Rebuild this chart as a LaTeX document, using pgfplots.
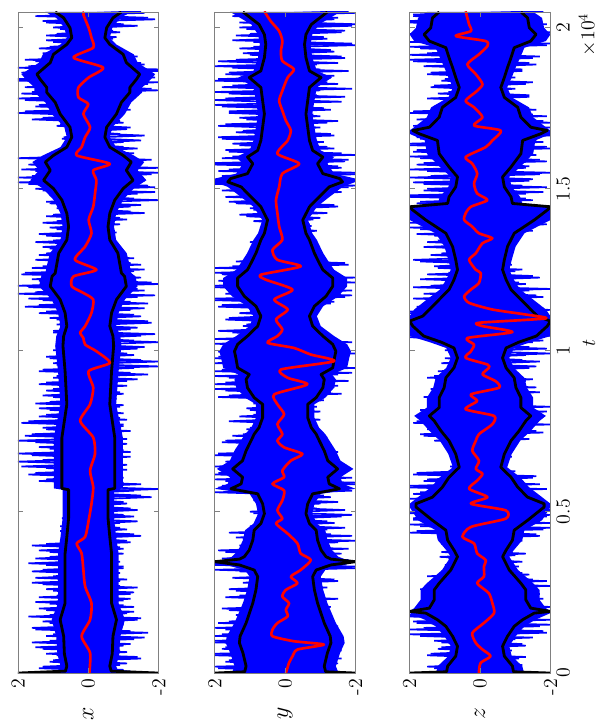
\documentclass[border=0pt]{standalone}
\usepackage{pgfplots}
\usepackage{pgfplotstable}
\pgfplotsset{compat=1.18}

% t  b(+env)  nb(-env)
\pgfplotstableread{
t b nb
0 2.00 -2.00
60 0.65 -0.65
216 0.61 -0.61
600 0.68 -0.68
1140 0.70 -0.70
1653 0.80 -0.80
2166 0.66 -0.66
3193 0.66 -0.66
3706 0.66 -0.66
4219 0.61 -0.61
4800 0.56 -0.56
5680 0.56 -0.56
5720 0.75 -0.75
6273 0.75 -0.75
7299 0.75 -0.75
8325 0.61 -0.61
9353 0.66 -0.66
10132 0.72 -0.72
10440 0.70 -0.70
10748 0.61 -0.61
11159 0.66 -0.66
11570 0.80 -0.80
11980 1.08 -1.08
12288 1.03 -1.03
12391 0.94 -0.94
12699 0.89 -0.89
13007 0.84 -0.84
13418 0.61 -0.61
13828 0.56 -0.56
14239 0.61 -0.61
14650 0.75 -0.75
15009 0.99 -0.99
15266 1.27 -1.27
15574 1.08 -1.08
15830 1.22 -1.22
16035 0.99 -0.99
16292 0.61 -0.61
16600 0.47 -0.47
16908 0.52 -0.52
17319 0.80 -0.80
17678 0.94 -0.94
17986 1.18 -1.18
18140 1.18 -1.18
18397 1.37 -1.37
18551 1.46 -1.46
18910 1.08 -1.08
19166 0.99 -0.99
19474 0.61 -0.61
19680 0.47 -0.47
19988 0.52 -0.52
20296 0.70 -0.70
20480 0.94 -0.94
}\envA

\pgfplotstableread{
t b nb
0 2.00 -2.00
40 1.15 -1.15
216 1.11 -1.11
626 1.20 -1.20
934 1.30 -1.30
1140 1.28 -1.28
1551 1.11 -1.11
2166 0.92 -0.92
2577 0.83 -0.83
2988 0.78 -0.78
3193 0.88 -0.88
3350 1.30 -1.30
3450 2.00 -2.00
3530 1.30 -1.30
3604 1.16 -1.16
3809 1.02 -1.02
4117 0.92 -0.92
4425 0.88 -0.88
4630 0.69 -0.69
4938 0.59 -0.59
5245 0.64 -0.64
5553 0.78 -0.78
5708 1.54 -1.54
5862 1.25 -1.25
6067 1.21 -1.21
6324 1.49 -1.49
6580 1.21 -1.21
6888 1.11 -1.11
7196 0.97 -0.97
7402 0.88 -0.88
7607 0.74 -0.74
7915 0.64 -0.64
8326 0.64 -0.64
8531 0.88 -0.88
8839 1.07 -1.07
9096 1.11 -1.11
9250 1.02 -1.02
9455 1.35 -1.35
9763 1.40 -1.40
9968 1.44 -1.44
10184 1.35 -1.35
10440 1.07 -1.07
10748 0.78 -0.78
11056 0.69 -0.69
11364 0.83 -0.83
11672 1.16 -1.16
11980 1.35 -1.35
12237 1.35 -1.35
12493 1.07 -1.07
12699 0.97 -0.97
13007 0.83 -0.83
13418 0.69 -0.69
13623 0.59 -0.59
14034 0.50 -0.50
14444 0.69 -0.69
14752 0.97 -0.97
15060 1.25 -1.25
15215 1.63 -1.63
15317 1.55 -1.55
15471 1.07 -1.07
15779 0.92 -0.92
15985 1.07 -1.07
16190 0.78 -0.78
16498 0.69 -0.69
16908 0.64 -0.64
17319 0.59 -0.59
17730 0.64 -0.64
18140 0.69 -0.69
18448 1.02 -1.02
18654 0.69 -0.69
19064 0.59 -0.59
19474 0.55 -0.55
19782 0.59 -0.59
20090 0.74 -0.74
20480 1.20 -1.20
}\envB

\pgfplotstableread{
t b nb
0 2.00 -2.00
40 0.95 -0.95
216 0.92 -0.92
524 0.69 -0.69
832 0.64 -0.64
1140 0.78 -0.78
1448 0.97 -0.97
1653 1.21 -1.21
1858 1.54 -1.54
1910 2.00 -2.00
2012 1.44 -1.44
2269 1.30 -1.30
2577 1.30 -1.30
2783 1.16 -1.16
3193 0.83 -0.83
3604 0.64 -0.64
3809 0.74 -0.74
4117 0.92 -0.92
4425 0.97 -0.97
4732 1.35 -1.35
5143 1.82 -1.82
5245 1.82 -1.82
5450 1.35 -1.35
5759 1.07 -1.07
6067 0.88 -0.88
6375 0.59 -0.59
6786 0.69 -0.69
7196 0.88 -0.88
7504 1.11 -1.11
7812 1.30 -1.30
7966 1.44 -1.44
8223 1.16 -1.16
8531 1.16 -1.16
8839 1.02 -1.02
9147 0.97 -0.97
9455 0.74 -0.74
9763 0.64 -0.64
10071 0.74 -0.74
10250 1.10 -1.10
10440 1.60 -1.60
10748 1.91 -1.91
10902 2.00 -2.00
11056 1.63 -1.63
11262 1.44 -1.44
11570 1.16 -1.16
11878 0.88 -0.88
12186 0.74 -0.74
12493 0.64 -0.64
12801 0.69 -0.69
13212 0.78 -0.78
13623 0.97 -0.97
14034 1.54 -1.54
14342 1.91 -1.91
14444 2.00 -2.00
14547 0.92 -0.92
14752 0.88 -0.88
15060 0.69 -0.69
15369 0.64 -0.64
15677 0.88 -0.88
16087 1.16 -1.16
16498 1.21 -1.21
16703 1.72 -1.72
16806 1.91 -1.91
16908 1.44 -1.44
17216 1.16 -1.16
17524 1.07 -1.07
17832 0.69 -0.69
18140 0.59 -0.59
18448 0.69 -0.69
18756 0.78 -0.78
19064 0.88 -0.88
19372 0.97 -0.97
19577 1.44 -1.44
19782 1.59 -1.59
19988 1.40 -1.40
20296 1.35 -1.35
20480 1.16 -1.16
}\envC

\begin{document}
\begin{tikzpicture}
\path (0,0) rectangle (362.4pt,435.6pt);

\pgfplotsset{
  panel/.style={
    scale only axis, width=85pt, height=399pt,
    xmin=-2, xmax=2, x dir=reverse,
    ymin=0, ymax=20480,
    scaled y ticks=false, scaled x ticks=false,
    xtick={-2,0,2}, xticklabels={-2,0,2},
    ytick={0,5000,10000,15000,20000}, yticklabels={},
    tick align=inside, major tick length=3pt,
    axis line style={gray}, tick style={gray, line width=0.4pt},
    xticklabel style={rotate=90, anchor=east, font=\fontsize{12}{14}\selectfont},
    xlabel style={at={(axis description cs:0.5,0)}, anchor=center, yshift=-24.6pt, rotate=90, font=\fontsize{14}{16}\selectfont},
    axis on top, clip=true, anchor=south west,
  },
  core/.style={fill=blue, draw=none},
  bl/.style={blue, line width=1.0pt, line join=miter, miter limit=2},
  bk/.style={black, line width=1.7pt, line join=round},
  rd/.style={red, line width=1.6pt, line join=round, smooth, tension=0.4},
}

% ---------------- panel x ----------------
\begin{axis}[panel, at={(10.8pt,29.4pt)}, xlabel={$x$}]
\addplot[core] table[row sep=\\, x index=0, y index=1] {
2.00 0\\ 0.85 60\\ 0.79 216\\ 0.88 600\\ 0.91 1140\\ 1.04 1653\\ 0.86 2166\\ 0.86 3193\\ 0.86 3706\\ 0.79 4219\\
0.73 4800\\ 0.73 5680\\ 0.98 5720\\ 0.98 6273\\ 0.98 7299\\ 0.79 8325\\ 0.86 9353\\ 0.94 10132\\ 0.91 10440\\ 0.79 10748\\
0.86 11159\\ 1.04 11570\\ 1.40 11980\\ 1.34 12288\\ 1.22 12391\\ 1.16 12699\\ 1.09 13007\\ 0.79 13418\\ 0.73 13828\\ 0.79 14239\\
0.98 14650\\ 1.29 15009\\ 1.65 15266\\ 1.40 15574\\ 1.59 15830\\ 1.29 16035\\ 0.79 16292\\ 0.61 16600\\ 0.68 16908\\ 1.04 17319\\
1.22 17678\\ 1.53 17986\\ 1.53 18140\\ 1.78 18397\\ 1.90 18551\\ 1.40 18910\\ 1.29 19166\\ 0.79 19474\\ 0.61 19680\\ 0.68 19988\\
0.91 20296\\ 1.22 20480\\
-1.22 20480\\ -0.91 20296\\ -0.68 19988\\ -0.61 19680\\ -0.79 19474\\ -1.29 19166\\ -1.40 18910\\ -1.90 18551\\ -1.78 18397\\ -1.53 18140\\
-1.53 17986\\ -1.22 17678\\ -1.04 17319\\ -0.68 16908\\ -0.61 16600\\ -0.79 16292\\ -1.29 16035\\ -1.59 15830\\ -1.40 15574\\ -1.65 15266\\
-1.29 15009\\ -0.98 14650\\ -0.79 14239\\ -0.73 13828\\ -0.79 13418\\ -1.09 13007\\ -1.16 12699\\ -1.22 12391\\ -1.34 12288\\ -1.40 11980\\
-1.04 11570\\ -0.86 11159\\ -0.79 10748\\ -0.91 10440\\ -0.94 10132\\ -0.86 9353\\ -0.79 8325\\ -0.98 7299\\ -0.98 6273\\ -0.98 5720\\
-0.73 5680\\ -0.73 4800\\ -0.79 4219\\ -0.86 3706\\ -0.86 3193\\ -0.86 2166\\ -1.04 1653\\ -0.91 1140\\ -0.88 600\\ -0.79 216\\
-0.85 60\\ -2.00 0\\
};
\addplot[bl] table[row sep=\\, header=false, x index=0, y expr=\coordindex*100] {
0.9\\ -1.0\\ 1.3\\ -1.1\\ 1.0\\ -1.4\\ 1.2\\ -0.9\\ 1.5\\ -1.2\\
1.1\\ -1.6\\ 1.0\\ -1.2\\ 1.6\\ -1.0\\ 1.3\\ -1.5\\ 1.1\\ -1.3\\
1.4\\ -1.0\\ 1.5\\ -1.2\\ 0.9\\ -1.3\\ 1.2\\ -0.9\\ 1.6\\ -1.1\\
1.0\\ -0.9\\ 1.3\\ -1.0\\ 1.7\\ -0.8\\ 1.1\\ -1.0\\ 1.4\\ -0.9\\
1.2\\ -1.1\\ 0.7\\ -1.3\\ 0.8\\ -0.9\\ 0.6\\ -1.4\\ 0.75\\ -1.0\\
0.7\\ -1.2\\ 0.65\\ -1.0\\ 0.6\\ -1.5\\ 0.7\\ -2.0\\ 0.9\\ -1.0\\
1.2\\ -0.9\\ 1.5\\ -1.1\\ 1.9\\ -0.9\\ 1.3\\ -1.2\\ 2.0\\ -1.0\\
1.4\\ -1.1\\ 2.0\\ -0.9\\ 1.6\\ -1.2\\ 1.3\\ -1.0\\ 1.7\\ -0.9\\
1.2\\ -0.8\\ 1.4\\ -1.0\\ 1.1\\ -0.8\\ 1.3\\ -0.9\\ 1.0\\ -1.1\\
1.2\\ -1.4\\ 0.9\\ -1.2\\ 1.3\\ -2.0\\ 1.0\\ -1.5\\ 1.2\\ -1.1\\
1.0\\ -1.6\\ 0.9\\ -1.3\\ 0.8\\ -1.9\\ 1.0\\ -1.4\\ 0.9\\ -1.7\\
1.1\\ -1.3\\ 1.2\\ -1.6\\ 1.4\\ -1.2\\ 1.7\\ -1.9\\ 1.5\\ -1.4\\
2.0\\ -1.8\\ 1.6\\ -1.3\\ 1.8\\ -1.6\\ 1.3\\ -1.2\\ 1.5\\ -1.0\\
1.2\\ -0.7\\ 1.3\\ -0.8\\ 1.0\\ -0.65\\ 1.4\\ -0.75\\ 1.1\\ -0.9\\
0.9\\ -0.9\\ 1.0\\ -1.2\\ 0.9\\ -1.5\\ 1.2\\ -1.3\\ 1.1\\ -1.9\\
1.5\\ -1.7\\ 2.0\\ -1.5\\ 1.6\\ -2.0\\ 1.9\\ -1.4\\ 1.5\\ -1.8\\
1.3\\ -1.3\\ 0.8\\ -1.0\\ 0.6\\ -1.5\\ 0.7\\ -0.9\\ 0.65\\ -1.2\\
0.8\\ -0.9\\ 1.3\\ -1.0\\ 1.8\\ -1.1\\ 1.4\\ -0.9\\ 2.0\\ -1.2\\
1.6\\ -1.8\\ 1.5\\ -2.0\\ 2.0\\ -1.6\\ 1.9\\ -2.0\\ 1.7\\ -1.5\\
1.8\\ -1.4\\ 1.3\\ -1.0\\ 1.1\\ -0.7\\ 1.2\\ -0.8\\ 0.9\\ -0.7\\
1.0\\ -1.0\\ 1.3\\ -1.7\\ 1.1\\ -1.5\\
};
\addplot[bl] table[row sep=\\, header=false, x index=0, y expr=\coordindex*100+50] {
-1.2\\ 1.4\\ -0.9\\ 1.1\\ -1.5\\ 0.9\\ -1.1\\ 1.3\\ -1.0\\ 1.6\\
-1.3\\ 1.2\\ -1.7\\ 1.5\\ -0.9\\ 1.1\\ -1.4\\ 1.7\\ -1.1\\ 1.2\\
-1.3\\ 1.1\\ -1.0\\ 1.4\\ -1.2\\ 1.0\\ -1.4\\ 1.3\\ -0.9\\ 1.5\\
-0.8\\ 1.6\\ -1.0\\ 1.2\\ -0.9\\ 1.5\\ -0.8\\ 1.1\\ -1.0\\ 1.6\\
-1.2\\ 0.65\\ -1.5\\ 0.7\\ -1.1\\ 0.8\\ -0.9\\ 0.6\\ -1.3\\ 0.7\\
-1.4\\ 0.6\\ -1.1\\ 0.7\\ -1.8\\ 0.6\\ -1.3\\ 0.8\\ -1.5\\ 1.4\\
-1.0\\ 1.7\\ -0.8\\ 1.2\\ -1.1\\ 2.0\\ -0.9\\ 1.6\\ -1.2\\ 1.1\\
-0.9\\ 1.5\\ -1.1\\ 1.8\\ -0.8\\ 1.2\\ -1.0\\ 1.9\\ -1.1\\ 1.4\\
-1.0\\ 1.1\\ -0.9\\ 1.5\\ -0.7\\ 1.0\\ -1.0\\ 1.2\\ -0.8\\ 1.4\\
-1.1\\ 1.0\\ -1.7\\ 1.4\\ -1.3\\ 0.9\\ -2.0\\ 1.1\\ -1.3\\ 0.9\\
-1.4\\ 0.8\\ -2.0\\ 0.7\\ -1.5\\ 1.0\\ -1.2\\ 0.8\\ -1.8\\ 0.9\\
-1.5\\ 1.4\\ -1.2\\ 1.8\\ -1.7\\ 1.3\\ -1.4\\ 2.0\\ -1.6\\ 1.7\\
-2.0\\ 1.4\\ -1.5\\ 1.9\\ -1.3\\ 1.6\\ -1.5\\ 1.1\\ -1.3\\ 1.4\\
-0.8\\ 1.1\\ -0.7\\ 1.5\\ -0.75\\ 1.2\\ -0.8\\ 0.9\\ -0.7\\ 1.3\\
-1.1\\ 1.2\\ -1.6\\ 0.8\\ -1.2\\ 1.1\\ -2.0\\ 1.0\\ -1.4\\ 1.3\\
-1.9\\ 1.7\\ -1.6\\ 2.0\\ -1.8\\ 1.5\\ -2.0\\ 1.7\\ -1.5\\ 2.0\\
-1.1\\ 0.7\\ -1.4\\ 0.55\\ -1.0\\ 0.75\\ -1.6\\ 0.6\\ -1.1\\ 0.9\\
-1.0\\ 1.6\\ -0.9\\ 2.0\\ -1.2\\ 1.5\\ -1.0\\ 1.8\\ -1.1\\ 1.9\\
-2.0\\ 1.8\\ -1.7\\ 2.0\\ -1.9\\ 1.6\\ -2.0\\ 2.0\\ -1.6\\ 1.5\\
-1.2\\ 1.0\\ -0.8\\ 1.4\\ -0.75\\ 1.0\\ -0.7\\ 1.2\\ -0.9\\ 0.8\\
-1.4\\ 1.2\\ -1.9\\ 1.5\\ -1.6\\
};
\addplot[bk] table[x=b, y=t] {\envA};
\addplot[bk] table[x=nb, y=t] {\envA};
\addplot[rd] table[row sep=\\, x index=1, y index=0] {
0 0.0\\ 10 -0.03\\ 626 -0.05\\ 1140 0.19\\ 1653 -0.05\\ 2166 -0.09\\ 2680 0.09\\ 3193 0.14\\ 3706 0.19\\ 4014 0.33\\
4219 0.09\\ 4732 -0.01\\ 5245 -0.09\\ 5759 -0.14\\ 6272 -0.05\\ 6786 -0.19\\ 7299 -0.14\\ 7812 0.23\\ 8326 -0.05\\ 8839 -0.14\\
9353 -0.01\\ 9609 -0.61\\ 9968 -0.23\\ 10174 0.09\\ 10379 0.14\\ 10544 0.23\\ 10748 0.09\\ 11159 -0.09\\ 11570 -0.14\\ 11775 0.14\\
11980 0.47\\ 12288 0.42\\ 12493 -0.23\\ 12801 0.38\\ 13212 0.09\\ 13623 -0.09\\ 14034 -0.01\\ 14444 -0.14\\ 14855 -0.19\\ 15266 -0.23\\
15574 -0.14\\ 15779 -0.61\\ 16035 0.33\\ 16292 0.19\\ 16600 0.09\\ 16908 -0.05\\ 17319 0.14\\ 17627 0.0\\ 17832 0.28\\ 18140 0.28\\
18448 -0.01\\ 18756 -0.42\\ 19064 0.42\\ 19372 -0.14\\ 19680 -0.09\\ 19988 -0.01\\ 20398 0.14\\ 20480 0.12\\
};
\end{axis}

% ---------------- panel y ----------------
\begin{axis}[panel, at={(129.6pt,29.4pt)}, xlabel={$y$}]
\addplot[core] table[row sep=\\, x index=0, y index=1] {
2.00 0\\ 1.50 40\\ 1.44 216\\ 1.56 626\\ 1.69 934\\ 1.66 1140\\ 1.44 1551\\ 1.20 2166\\ 1.08 2577\\ 1.01 2988\\
1.14 3193\\ 1.69 3350\\ 2.00 3450\\ 1.69 3530\\ 1.51 3604\\ 1.33 3809\\ 1.20 4117\\ 1.14 4425\\ 0.90 4630\\ 0.77 4938\\
0.83 5245\\ 1.01 5553\\ 2.00 5708\\ 1.63 5862\\ 1.57 6067\\ 1.94 6324\\ 1.57 6580\\ 1.44 6888\\ 1.26 7196\\ 1.14 7402\\
0.96 7607\\ 0.83 7915\\ 0.83 8326\\ 1.14 8531\\ 1.39 8839\\ 1.44 9096\\ 1.33 9250\\ 1.76 9455\\ 1.82 9763\\ 1.87 9968\\
1.76 10184\\ 1.39 10440\\ 1.01 10748\\ 0.90 11056\\ 1.08 11364\\ 1.51 11672\\ 1.76 11980\\ 1.76 12237\\ 1.39 12493\\ 1.26 12699\\
1.08 13007\\ 0.90 13418\\ 0.77 13623\\ 0.65 14034\\ 0.90 14444\\ 1.26 14752\\ 1.63 15060\\ 2.00 15215\\ 2.00 15317\\ 1.39 15471\\
1.20 15779\\ 1.39 15985\\ 1.01 16190\\ 0.90 16498\\ 0.83 16908\\ 0.77 17319\\ 0.83 17730\\ 0.90 18140\\ 1.33 18448\\ 0.90 18654\\
0.77 19064\\ 0.72 19474\\ 0.77 19782\\ 0.96 20090\\ 1.56 20480\\
-1.56 20480\\ -0.96 20090\\ -0.77 19782\\ -0.72 19474\\ -0.77 19064\\ -0.90 18654\\ -1.33 18448\\ -0.90 18140\\ -0.83 17730\\ -0.77 17319\\
-0.83 16908\\ -0.90 16498\\ -1.01 16190\\ -1.39 15985\\ -1.20 15779\\ -1.39 15471\\ -2.00 15317\\ -2.00 15215\\ -1.63 15060\\ -1.26 14752\\
-0.90 14444\\ -0.65 14034\\ -0.77 13623\\ -0.90 13418\\ -1.08 13007\\ -1.26 12699\\ -1.39 12493\\ -1.76 12237\\ -1.76 11980\\ -1.51 11672\\
-1.08 11364\\ -0.90 11056\\ -1.01 10748\\ -1.39 10440\\ -1.76 10184\\ -1.87 9968\\ -1.82 9763\\ -1.76 9455\\ -1.33 9250\\ -1.44 9096\\
-1.39 8839\\ -1.14 8531\\ -0.83 8326\\ -0.83 7915\\ -0.96 7607\\ -1.14 7402\\ -1.26 7196\\ -1.44 6888\\ -1.57 6580\\ -1.94 6324\\
-1.57 6067\\ -1.63 5862\\ -2.00 5708\\ -1.01 5553\\ -0.83 5245\\ -0.77 4938\\ -0.90 4630\\ -1.14 4425\\ -1.20 4117\\ -1.33 3809\\
-1.51 3604\\ -1.69 3530\\ -2.00 3450\\ -1.69 3350\\ -1.14 3193\\ -1.01 2988\\ -1.08 2577\\ -1.20 2166\\ -1.44 1551\\ -1.66 1140\\
-1.69 934\\ -1.56 626\\ -1.44 216\\ -1.50 40\\ -2.00 0\\
};
\addplot[bl] table[row sep=\\, header=false, x index=0, y expr=\coordindex*100] {
1.8\\ -1.4\\ 2.0\\ -1.5\\ 1.6\\ -1.3\\ 2.0\\ -1.6\\ 1.7\\ -1.4\\
2.0\\ -1.2\\ 1.8\\ -1.5\\ 2.0\\ -1.3\\ 1.6\\ -1.1\\ 1.4\\ -0.9\\
1.8\\ -1.2\\ 1.1\\ -1.5\\ 1.3\\ -0.8\\ 1.6\\ -1.0\\ 1.2\\ -1.4\\
1.0\\ -0.9\\ 2.0\\ -2.0\\ 2.0\\ -1.8\\ 1.5\\ -1.6\\ 1.9\\ -1.2\\
1.1\\ -2.0\\ 1.4\\ -1.3\\ 1.0\\ -1.7\\ 0.9\\ -1.2\\ 0.7\\ -1.9\\
1.0\\ -0.9\\ 0.75\\ -1.5\\ 0.8\\ -1.1\\ 2.0\\ -1.7\\ 1.8\\ -2.0\\
2.0\\ -1.6\\ 1.9\\ -1.8\\ 2.0\\ -1.3\\ 1.5\\ -1.1\\ 1.9\\ -1.4\\
1.3\\ -1.0\\ 1.7\\ -1.2\\ 1.2\\ -0.8\\ 1.0\\ -0.9\\ 1.6\\ -0.7\\
0.9\\ -1.0\\ 1.1\\ -0.8\\ 0.8\\ -0.9\\ 1.6\\ -1.3\\ 2.0\\ -1.5\\
1.7\\ -1.2\\ 2.0\\ -1.9\\ 1.8\\ -1.4\\ 2.0\\ -1.6\\ 1.9\\ -2.0\\
1.6\\ -1.5\\ 2.0\\ -1.3\\ 1.4\\ -0.9\\ 1.9\\ -0.7\\ 1.1\\ -0.8\\
1.6\\ -0.6\\ 1.0\\ -0.9\\ 1.8\\ -1.4\\ 2.0\\ -1.9\\ 1.6\\ -1.6\\
2.0\\ -2.0\\ 1.7\\ -1.5\\ 2.0\\ -1.3\\ 1.5\\ -1.7\\ 1.0\\ -0.9\\
0.8\\ -0.7\\ 0.9\\ -0.8\\ 0.6\\ -0.65\\ 0.7\\ -0.9\\ 0.55\\ -0.7\\
0.9\\ -1.0\\ 1.3\\ -0.8\\ 1.0\\ -1.4\\ 1.6\\ -1.1\\ 1.2\\ -1.6\\
1.5\\ -2.0\\ 2.0\\ -1.7\\ 1.8\\ -2.0\\ 1.6\\ -1.5\\ 2.0\\ -1.8\\
1.5\\ -1.6\\ 1.7\\ -1.2\\ 1.5\\ -0.9\\ 1.9\\ -1.3\\ 1.2\\ -1.0\\
1.7\\ -1.5\\ 1.3\\ -0.8\\ 1.6\\ -1.1\\ 2.0\\ -1.6\\ 1.7\\ -0.9\\
2.0\\ -1.9\\ 1.5\\ -1.2\\ 1.9\\ -1.4\\ 1.6\\ -1.0\\ 2.0\\ -1.5\\
1.4\\ -1.6\\ 1.2\\ -1.3\\ 0.9\\ -1.9\\ 1.5\\ -1.1\\ 1.0\\ -1.7\\
1.3\\ -2.0\\ 1.1\\ -1.5\\ 1.4\\ -1.8\\
};
\addplot[bl] table[row sep=\\, header=false, x index=0, y expr=\coordindex*100+50] {
-1.5\\ 1.9\\ -1.3\\ 1.7\\ -1.6\\ 2.0\\ -1.4\\ 1.8\\ -1.5\\ 2.0\\
-1.4\\ 2.0\\ -1.2\\ 1.7\\ -1.5\\ 1.9\\ -1.2\\ 1.3\\ -1.0\\ 1.6\\
-1.3\\ 1.2\\ -0.9\\ 1.7\\ -1.1\\ 1.4\\ -1.2\\ 1.0\\ -1.5\\ 1.5\\
-1.0\\ 1.3\\ -2.0\\ 2.0\\ -1.9\\ 1.8\\ -1.4\\ 1.7\\ -1.8\\ 1.3\\
-1.5\\ 1.2\\ -1.9\\ 1.6\\ -1.2\\ 1.0\\ -1.4\\ 0.8\\ -1.6\\ 0.9\\
-1.7\\ 0.7\\ -1.0\\ 0.9\\ -1.3\\ 0.8\\ -1.9\\ 1.9\\ -2.0\\ 1.7\\
-1.9\\ 2.0\\ -1.7\\ 1.8\\ -1.5\\ 1.7\\ -1.2\\ 2.0\\ -1.5\\ 1.4\\
-1.3\\ 1.8\\ -1.1\\ 1.5\\ -1.0\\ 1.1\\ -0.9\\ 0.8\\ -1.0\\ 1.3\\
-0.7\\ 1.0\\ -0.9\\ 0.9\\ -1.1\\ 1.9\\ -1.6\\ 1.7\\ -1.4\\ 2.0\\
-1.8\\ 1.6\\ -1.5\\ 2.0\\ -2.0\\ 1.7\\ -1.4\\ 2.0\\ -1.7\\ 1.9\\
-1.4\\ 1.7\\ -1.9\\ 2.0\\ -0.8\\ 1.5\\ -0.7\\ 1.2\\ -0.9\\ 1.7\\
-0.7\\ 1.3\\ -0.8\\ 1.9\\ -1.3\\ 2.0\\ -1.7\\ 1.7\\ -1.9\\ 2.0\\
-1.6\\ 1.9\\ -2.0\\ 1.8\\ -1.4\\ 2.0\\ -1.8\\ 1.4\\ -1.1\\ 0.9\\
-0.8\\ 0.7\\ -0.9\\ 1.0\\ -0.7\\ 0.8\\ -0.6\\ 0.6\\ -0.75\\ 0.65\\
-0.8\\ 1.1\\ -1.2\\ 0.9\\ -1.5\\ 1.4\\ -0.9\\ 1.7\\ -1.3\\ 1.8\\
-1.8\\ 2.0\\ -1.9\\ 1.7\\ -2.0\\ 1.9\\ -1.6\\ 2.0\\ -1.7\\ 1.8\\
-2.0\\ 1.6\\ -1.4\\ 1.3\\ -1.1\\ 1.8\\ -1.4\\ 1.4\\ -0.8\\ 1.9\\
-1.2\\ 1.1\\ -1.0\\ 1.6\\ -1.3\\ 1.8\\ -0.8\\ 2.0\\ -1.7\\ 1.6\\
-1.0\\ 1.8\\ -1.5\\ 2.0\\ -1.3\\ 1.7\\ -1.8\\ 1.5\\ -0.9\\ 1.9\\
-1.7\\ 1.0\\ -1.4\\ 1.3\\ -2.0\\ 0.9\\ -1.2\\ 1.4\\ -1.6\\ 1.1\\
-1.9\\ 1.3\\ -1.4\\ 1.5\\ -2.0\\
};
\addplot[bk] table[x=b, y=t] {\envB};
\addplot[bk] table[x=nb, y=t] {\envB};
\addplot[rd] table[row sep=\\, x index=1, y index=0] {
0 -0.02\\ 319 -0.11\\ 524 -0.21\\ 729 -0.35\\ 883 -1.10\\ 986 -0.25\\ 1140 0.36\\ 1345 0.36\\ 1551 0.22\\ 1756 -0.07\\
1961 -0.02\\ 2166 -0.11\\ 2372 0.08\\ 2577 -0.02\\ 2783 -0.35\\ 2988 -0.16\\ 3193 -0.44\\ 3501 -0.73\\ 3706 -0.44\\ 4014 -0.35\\
4322 -0.07\\ 4630 0.26\\ 4784 0.08\\ 5040 0.22\\ 5348 0.08\\ 5656 0.03\\ 5862 0.36\\ 6067 0.03\\ 6272 0.08\\ 6580 -0.16\\
6786 -0.49\\ 6991 0.03\\ 7196 0.22\\ 7402 0.08\\ 7710 0.22\\ 8018 0.03\\ 8326 0.22\\ 8634 0.31\\ 8942 -0.63\\ 9147 -0.07\\
9404 0.12\\ 9660 -1.39\\ 9866 -0.73\\ 10071 -0.25\\ 10230 0.50\\ 10440 0.22\\ 10646 0.08\\ 10954 0.26\\ 11262 -0.07\\ 11570 0.31\\
11878 -0.21\\ 12186 0.55\\ 12340 0.69\\ 12596 -0.44\\ 12801 0.22\\ 13109 0.36\\ 13418 0.08\\ 13828 0.17\\ 14239 0.22\\ 14650 0.26\\
15060 0.17\\ 15471 0.08\\ 15779 -0.40\\ 16087 0.22\\ 16498 -0.07\\ 16806 -0.16\\ 17114 -0.02\\ 17422 0.08\\ 17730 0.17\\ 18037 0.08\\
18448 -0.07\\ 18705 -0.25\\ 18961 0.08\\ 19269 0.12\\ 19577 0.08\\ 19885 0.17\\ 20193 0.41\\ 20500 0.59\\
};
\end{axis}

% ---------------- panel z ----------------
\begin{axis}[panel, at={(247.2pt,29.4pt)}, xlabel={$z$},
  yticklabels={0,0.5,1,1.5,2}, yticklabel pos=right,
  yticklabel style={rotate=90, anchor=north, font=\fontsize{12}{14}\selectfont}]
\addplot[core] table[row sep=\\, x index=0, y index=1] {
2.00 0\\ 1.24 40\\ 1.20 216\\ 0.90 524\\ 0.83 832\\ 1.01 1140\\ 1.26 1448\\ 1.57 1653\\ 2.00 1858\\ 2.00 1910\\
1.87 2012\\ 1.69 2269\\ 1.69 2577\\ 1.51 2783\\ 1.08 3193\\ 0.83 3604\\ 0.96 3809\\ 1.20 4117\\ 1.26 4425\\ 1.76 4732\\
2.00 5143\\ 2.00 5245\\ 1.76 5450\\ 1.39 5759\\ 1.14 6067\\ 0.77 6375\\ 0.90 6786\\ 1.14 7196\\ 1.44 7504\\ 1.69 7812\\
1.87 7966\\ 1.51 8223\\ 1.51 8531\\ 1.33 8839\\ 1.26 9147\\ 0.96 9455\\ 0.83 9763\\ 0.96 10071\\ 1.43 10250\\ 2.00 10440\\
2.00 10748\\ 2.00 10902\\ 2.00 11056\\ 1.87 11262\\ 1.51 11570\\ 1.14 11878\\ 0.96 12186\\ 0.83 12493\\ 0.90 12801\\ 1.01 13212\\
1.26 13623\\ 2.00 14034\\ 2.00 14342\\ 2.00 14444\\ 1.20 14547\\ 1.14 14752\\ 0.90 15060\\ 0.83 15369\\ 1.14 15677\\ 1.51 16087\\
1.57 16498\\ 2.00 16703\\ 2.00 16806\\ 1.87 16908\\ 1.51 17216\\ 1.39 17524\\ 0.90 17832\\ 0.77 18140\\ 0.90 18448\\ 1.01 18756\\
1.14 19064\\ 1.26 19372\\ 1.87 19577\\ 2.00 19782\\ 1.82 19988\\ 1.76 20296\\ 1.51 20480\\
-1.51 20480\\ -1.76 20296\\ -1.82 19988\\ -2.00 19782\\ -1.87 19577\\ -1.26 19372\\ -1.14 19064\\ -1.01 18756\\ -0.90 18448\\ -0.77 18140\\
-0.90 17832\\ -1.39 17524\\ -1.51 17216\\ -1.87 16908\\ -2.00 16806\\ -2.00 16703\\ -1.57 16498\\ -1.51 16087\\ -1.14 15677\\ -0.83 15369\\
-0.90 15060\\ -1.14 14752\\ -1.20 14547\\ -2.00 14444\\ -2.00 14342\\ -2.00 14034\\ -1.26 13623\\ -1.01 13212\\ -0.90 12801\\ -0.83 12493\\
-0.96 12186\\ -1.14 11878\\ -1.51 11570\\ -1.87 11262\\ -2.00 11056\\ -2.00 10902\\ -2.00 10748\\ -2.00 10440\\ -1.43 10250\\ -0.96 10071\\
-0.83 9763\\ -0.96 9455\\ -1.26 9147\\ -1.33 8839\\ -1.51 8531\\ -1.51 8223\\ -1.87 7966\\ -1.69 7812\\ -1.44 7504\\ -1.14 7196\\
-0.90 6786\\ -0.77 6375\\ -1.14 6067\\ -1.39 5759\\ -1.76 5450\\ -2.00 5245\\ -2.00 5143\\ -1.76 4732\\ -1.26 4425\\ -1.20 4117\\
-0.96 3809\\ -0.83 3604\\ -1.08 3193\\ -1.51 2783\\ -1.69 2577\\ -1.69 2269\\ -1.87 2012\\ -2.00 1910\\ -2.00 1858\\ -1.57 1653\\
-1.26 1448\\ -1.01 1140\\ -0.83 832\\ -0.90 524\\ -1.20 216\\ -1.24 40\\ -2.00 0\\
};
\addplot[bl] table[row sep=\\, header=false, x index=0, y expr=\coordindex*100] {
1.2\\ -1.0\\ 1.5\\ -0.8\\ 1.0\\ -1.3\\ 1.4\\ -0.9\\ 1.1\\ -1.2\\
1.3\\ -1.5\\ 2.0\\ -1.8\\ 1.6\\ -2.0\\ 1.9\\ -1.6\\ 2.0\\ -2.0\\
1.7\\ -1.4\\ 1.6\\ -1.8\\ 1.2\\ -1.3\\ 1.7\\ -2.0\\ 1.3\\ -1.5\\
1.5\\ -1.2\\ 1.0\\ -1.1\\ 0.9\\ -0.8\\ 1.15\\ -1.3\\ 0.85\\ -0.9\\
1.1\\ -1.2\\ 1.0\\ -1.6\\ 1.8\\ -2.0\\ 2.0\\ -1.7\\ 1.9\\ -2.0\\
2.0\\ -1.8\\ 2.0\\ -1.9\\ 2.0\\ -1.4\\ 1.7\\ -1.9\\ 2.0\\ -1.2\\
1.5\\ -1.6\\ 1.8\\ -0.8\\ 0.85\\ -0.6\\ 0.7\\ -0.9\\ 0.9\\ -0.7\\
0.6\\ -0.85\\ 1.3\\ -1.2\\ 1.7\\ -1.6\\ 1.4\\ -2.0\\ 1.8\\ -1.5\\
1.6\\ -1.9\\ 1.2\\ -1.3\\ 1.5\\ -1.1\\ 1.1\\ -1.7\\ 1.4\\ -1.2\\
0.9\\ -1.5\\ 1.3\\ -1.0\\ 0.9\\ -1.6\\ 1.1\\ -1.2\\ 0.8\\ -2.0\\
1.0\\ -1.4\\ 1.2\\ -1.8\\ 2.0\\ -2.0\\ 1.8\\ -1.9\\ 2.0\\ -2.0\\
1.9\\ -1.7\\ 2.0\\ -1.8\\ 1.5\\ -1.3\\ 1.9\\ -1.6\\ 1.1\\ -2.0\\
1.4\\ -1.1\\ 1.7\\ -1.5\\ 0.9\\ -1.2\\ 1.3\\ -0.8\\ 1.9\\ -0.9\\
1.1\\ -0.75\\ 1.6\\ -1.0\\ 1.2\\ -0.8\\ 1.8\\ -1.5\\ 2.0\\ -1.9\\
1.6\\ -2.0\\ 2.0\\ -2.0\\ 2.0\\ -1.6\\ 1.7\\ -1.3\\ 2.0\\ -1.8\\
1.5\\ -1.2\\ 1.9\\ -1.5\\ 1.4\\ -2.0\\ 2.0\\ -1.4\\ 1.6\\ -1.7\\
2.0\\ -1.5\\ 1.8\\ -1.9\\ 2.0\\ -1.6\\ 1.8\\ -2.0\\ 2.0\\ -2.0\\
1.7\\ -1.8\\ 1.5\\ -1.5\\ 1.9\\ -1.3\\ 1.2\\ -0.9\\ 1.5\\ -1.4\\
0.9\\ -1.0\\ 1.3\\ -1.5\\ 1.0\\ -0.8\\ 1.4\\ -1.2\\ 1.6\\ -1.4\\
2.0\\ -1.7\\ 1.5\\ -1.2\\ 2.0\\ -2.0\\ 1.8\\ -1.5\\ 2.0\\ -1.3\\
1.7\\ -1.9\\ 2.0\\ -1.6\\ 1.9\\ -1.8\\
};
\addplot[bl] table[row sep=\\, header=false, x index=0, y expr=\coordindex*100+50] {
-0.9\\ 1.3\\ -1.2\\ 1.0\\ -1.1\\ 1.5\\ -0.8\\ 1.2\\ -1.3\\ 1.1\\
-1.0\\ 1.7\\ -1.9\\ 2.0\\ -1.7\\ 1.8\\ -2.0\\ 2.0\\ -1.9\\ 1.6\\
-2.0\\ 1.5\\ -1.4\\ 1.3\\ -1.7\\ 1.6\\ -1.2\\ 1.4\\ -1.9\\ 1.2\\
-1.4\\ 1.1\\ -0.9\\ 1.0\\ -1.2\\ 0.9\\ -1.0\\ 1.1\\ -0.8\\ 0.95\\
-1.1\\ 1.1\\ -1.7\\ 2.0\\ -1.8\\ 1.7\\ -2.0\\ 1.9\\ -1.9\\ 2.0\\
-2.0\\ 2.0\\ -1.9\\ 1.8\\ -1.6\\ 1.9\\ -1.3\\ 2.0\\ -1.7\\ 1.6\\
-1.5\\ 1.9\\ -1.0\\ 0.8\\ -0.7\\ 0.65\\ -0.8\\ 0.75\\ -0.6\\ 0.9\\
-0.9\\ 1.0\\ -1.4\\ 1.6\\ -1.8\\ 1.5\\ -1.3\\ 1.9\\ -1.7\\ 1.4\\
-1.5\\ 1.7\\ -2.0\\ 1.2\\ -1.4\\ 1.6\\ -1.2\\ 1.3\\ -1.6\\ 1.0\\
-1.3\\ 1.5\\ -1.0\\ 1.2\\ -1.4\\ 0.8\\ -1.7\\ 1.0\\ -1.3\\ 0.9\\
-1.9\\ 1.1\\ -1.5\\ 1.0\\ -2.0\\ 2.0\\ -1.9\\ 1.8\\ -2.0\\ 2.0\\
-1.9\\ 2.0\\ -2.0\\ 1.8\\ -1.4\\ 1.2\\ -1.8\\ 1.6\\ -1.4\\ 1.9\\
-1.3\\ 1.0\\ -1.7\\ 1.5\\ -1.0\\ 1.2\\ -0.9\\ 1.7\\ -0.8\\ 1.4\\
-0.9\\ 1.0\\ -0.8\\ 1.5\\ -0.7\\ 1.3\\ -1.2\\ 1.7\\ -1.6\\ 2.0\\
-1.8\\ 2.0\\ -2.0\\ 1.9\\ -2.0\\ 1.8\\ -1.5\\ 2.0\\ -1.3\\ 1.6\\
-1.9\\ 1.6\\ -1.4\\ 2.0\\ -1.7\\ 1.5\\ -1.3\\ 1.8\\ -1.9\\ 1.7\\
-1.6\\ 1.9\\ -2.0\\ 2.0\\ -1.8\\ 1.7\\ -2.0\\ 2.0\\ -1.7\\ 1.9\\
-2.0\\ 1.8\\ -1.9\\ 2.0\\ -1.6\\ 1.3\\ -1.1\\ 1.0\\ -1.4\\ 1.2\\
-0.8\\ 1.4\\ -1.3\\ 1.1\\ -1.0\\ 1.5\\ -1.2\\ 1.0\\ -1.6\\ 1.9\\
-1.5\\ 2.0\\ -1.2\\ 1.7\\ -1.9\\ 2.0\\ -1.4\\ 1.6\\ -2.0\\ 1.8\\
-1.5\\ 2.0\\ -1.7\\ 1.9\\ -1.4\\
};
\addplot[bk] table[x=b, y=t] {\envC};
\addplot[bk] table[x=nb, y=t] {\envC};
\addplot[rd] table[row sep=\\, x index=1, y index=0] {
0 0.03\\ 62 0.03\\ 319 -0.02\\ 524 -0.30\\ 729 -0.07\\ 934 0.12\\ 1243 0.22\\ 1551 -0.11\\ 1858 -0.40\\ 2166 -0.35\\
2474 -0.25\\ 2783 0.08\\ 2988 -0.11\\ 3296 -0.11\\ 3501 -0.16\\ 3706 0.08\\ 4014 0.17\\ 4219 0.50\\ 4527 0.26\\ 4784 -0.73\\
5040 -0.73\\ 5245 0.26\\ 5450 -0.21\\ 5708 0.31\\ 5964 0.08\\ 6170 -0.07\\ 6324 0.12\\ 6580 0.03\\ 6888 0.22\\ 7196 0.12\\
7402 0.03\\ 7710 -0.35\\ 7966 -0.40\\ 8172 0.41\\ 8429 0.08\\ 8634 0.26\\ 8839 -0.54\\ 9044 -0.44\\ 9250 -0.07\\ 9455 -0.25\\
9558 -0.21\\ 9763 0.41\\ 9968 0.26\\ 10174 0.17\\ 10379 0.36\\ 10563 -0.92\\ 10748 -0.07\\ 10851 0.03\\ 10985 -1.86\\ 11108 -1.29\\
11262 -0.35\\ 11467 0.31\\ 11672 0.45\\ 11878 0.26\\ 12083 0.03\\ 12391 -0.02\\ 12493 0.12\\ 12801 0.31\\ 13007 0.12\\ 13315 -0.07\\
13469 -0.35\\ 13623 0.03\\ 13828 0.22\\ 14034 0.45\\ 14239 0.41\\ 14444 0.26\\ 14650 -0.21\\ 14855 0.08\\ 15163 0.17\\ 15471 0.08\\
15779 0.22\\ 15985 0.41\\ 16292 -0.16\\ 16498 -0.35\\ 16806 -0.59\\ 16960 0.17\\ 17216 -0.07\\ 17524 0.17\\ 17730 0.41\\ 18037 0.08\\
18243 -0.07\\ 18551 0.12\\ 18859 0.36\\ 19166 0.03\\ 19423 -0.21\\ 19577 -0.16\\ 19731 0.69\\ 19885 0.26\\ 20090 0.31\\ 20296 0.36\\
20500 0.41\\
};
\end{axis}

\node[rotate=90, inner sep=0pt, font=\fontsize{13}{15}\selectfont] at (355.5pt,228.6pt) {$t$};
\node[rotate=90, inner sep=0pt, font=\fontsize{12}{14}\selectfont] at (354.5pt,414.6pt) {$\times10^{4}$};
\end{tikzpicture}
\end{document}
